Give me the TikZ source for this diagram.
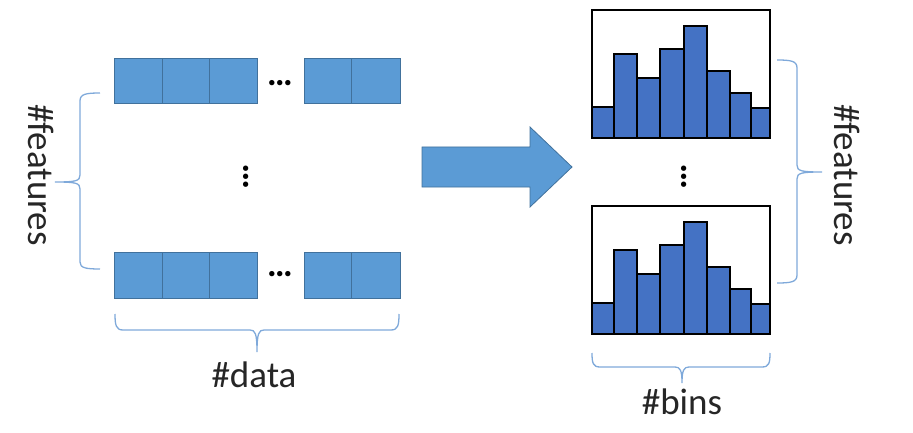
\documentclass[tikz,border=0pt]{standalone}
\usepackage{fontspec}
\setmainfont{Carlito}
\definecolor{cellblue}{HTML}{5B9BD5}
\definecolor{cellline}{HTML}{41719C}
\definecolor{barblue}{HTML}{4472C4}
\definecolor{bracecol}{HTML}{7FA9DA}
\tikzset{
  cellbox/.style={fill=cellblue,draw=cellline,line width=1pt},
  brc/.style={draw=bracecol,line width=1.3pt},
  lbl/.style={font=\fontsize{37}{40}\selectfont,inner sep=0pt,text=black!85},
  dotsl/.style={font=\fontsize{36}{38}\selectfont\bfseries,inner sep=0pt},
  frm/.style={draw=black,line width=1.3pt,fill=white},
  bar/.style={fill=barblue,draw=black,line width=1.3pt},
  bigarrow/.style={fill=cellblue,draw=cellline,line width=0.8pt}
}
\begin{document}
\begin{tikzpicture}[x=1pt,y=-1pt]
\useasboundingbox (0,0) rectangle (913,433);
% left matrix rows
\foreach \y/\yy in {59/104,252/298}{
  \foreach \a/\b in {114/162,162/209,209/257,304/351,351/400}{
    \draw[cellbox] (\a,\y) rectangle (\b,\yy);
  }
}
\node[dotsl,anchor=base] (hd1) at (280,86) {…};
\node[dotsl,anchor=base] (hd2) at (280,276) {…};
\node[dotsl,rotate=90,anchor=base] (vd1) at (248,177) {…};
% left brace
\draw[brc] (100,93) .. controls (86,93) and (80,94) .. (80,101) -- (80,175)
  .. controls (80,181) and (76,182) .. (55,182)
  .. controls (76,182) and (80,183) .. (80,189) -- (80,262)
  .. controls (80,268) and (86,269) .. (100,269);
\node[lbl,rotate=-90] (featl) at (41,175) {\#features};
% bottom brace left
\draw[brc] (115,314) .. controls (115,325) and (116,330) .. (123,330) -- (250,330)
  .. controls (255,330) and (257,333) .. (257,352)
  .. controls (257,333) and (259,330) .. (264,330) -- (391,330)
  .. controls (398,330) and (399,325) .. (399,314);
\node[lbl] (data) at (254,375) {\#data};
% arrow
\draw[bigarrow] (422,147) -- (530,147) -- (530,127) -- (572,167) -- (530,207) -- (530,187) -- (422,187) -- cycle;
% histograms
\foreach \t in {10,206}{
  \draw[frm] (592,\t) rectangle (770,\t+128);
  \foreach \a/\b/\h in {592/614/97,614/637/44,637/660/68,660/684/39,684/707/16,707/730/61,730/751/83,751/770/98}{
    \draw[bar] (\a,\t+\h) rectangle (\b,\t+128);
  }
  \draw[draw=black,line width=1.3pt] (592,\t) rectangle (770,\t+128);
}
\node[dotsl,rotate=90,anchor=base] (vd2) at (686,177) {…};
% right brace
\draw[brc] (777,60) .. controls (791,60) and (797,61) .. (797,68) -- (797,165)
  .. controls (797,171) and (801,172) .. (822,172)
  .. controls (801,172) and (797,173) .. (797,179) -- (797,275)
  .. controls (797,282) and (791,283) .. (777,283);
\node[lbl,rotate=-90] (featr) at (847,175) {\#features};
% bottom brace right
\draw[brc] (592,353) .. controls (592,363) and (593,367) .. (600,367) -- (675,367)
  .. controls (680,367) and (682,370) .. (682,383)
  .. controls (682,370) and (684,367) .. (689,367) -- (762,367)
  .. controls (769,367) and (770,363) .. (770,353);
\node[lbl] (bins) at (682,402) {\#bins};
\end{tikzpicture}
\end{document}
